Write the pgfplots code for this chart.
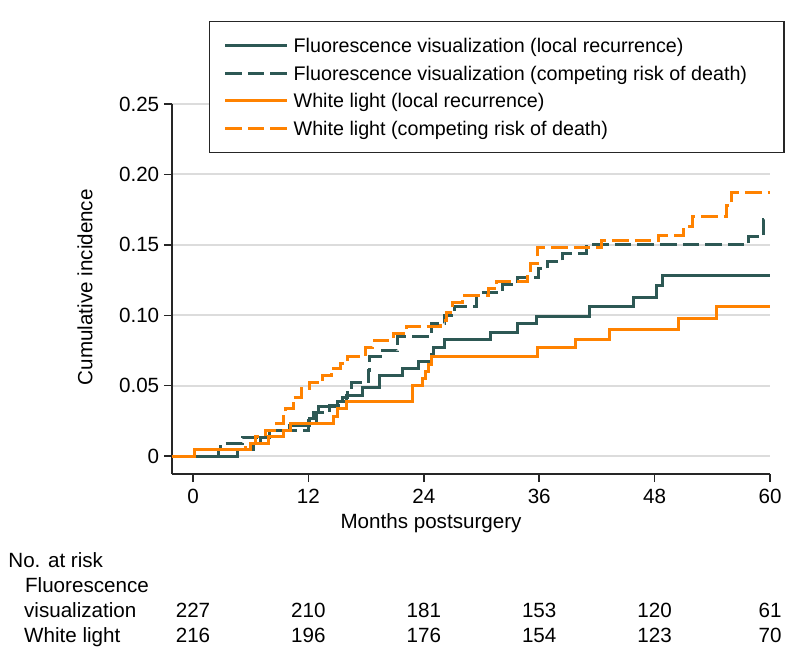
\documentclass[border=0pt]{standalone}
\usepackage{pgfplots}
\pgfplotsset{compat=1.18}
\usepackage{fontspec}
\setmainfont{Liberation Sans}
\definecolor{fvgreen}{RGB}{45,88,84}
\definecolor{wlorange}{RGB}{255,130,0}
\definecolor{gridgray}{RGB}{220,220,220}
\tikzset{
  legtext/.style={inner sep=0pt, text height=10.4pt, text depth=3.45pt},
  tab/.style={inner sep=0pt, text height=7.4pt, text depth=0pt, font=\fontsize{10.3}{12}\selectfont},
}
\begin{document}
\begin{tikzpicture}
\begin{axis}[
  scale only axis, width=299pt, height=185pt,
  xmin=-2.2, xmax=60, ymin=-0.0128, ymax=0.25,
  axis x line*=bottom, axis y line*=left,
  axis line style={black!85, line width=0.75pt},
  tick style={black!85, line width=0.75pt},
  tick align=outside, major tick length=4pt,
  xtick={0,12,24,36,48,60}, xticklabels={0,12,24,36,48,60},
  ytick={0,0.05,0.10,0.15,0.20,0.25},
  yticklabels={0,0.05,0.10,0.15,0.20,0.25},
  yticklabel style={xshift=1.2pt},
  /pgf/number format/assume math mode=true,
  tick label style={font=\fontsize{10.3}{12}\selectfont},
  ymajorgrids, grid style={gridgray, line width=1pt},
  clip=false,
  legend style={at={(axis cs:1.66,0.309)}, anchor=north west,
    draw=black!85, line width=0.7pt, inner xsep=7pt, inner ysep=5pt,
    row sep=0pt, column sep=2.5pt,
    font=\fontsize{9.85}{11}\selectfont},
  legend cell align=left,
  legend image code/.code={\draw[#1] (0pt,0pt) -- (31pt,0pt);},
]
\addplot[const plot, fvgreen, line width=1.5pt] coordinates {
(0,0) (4.6,0.0045) (6.3,0.009) (7.0,0.0135) (8.0,0.018) (10.0,0.022)
(12.1,0.027) (12.5,0.031) (13.0,0.035) (15.0,0.039) (16.0,0.043)
(17.6,0.049) (19.4,0.057) (21.8,0.062) (23.4,0.067) (24.8,0.072)
(25.0,0.077) (26.1,0.083) (30.9,0.088) (33.7,0.094) (35.7,0.099)
(41.2,0.106) (45.8,0.113) (48.2,0.121) (48.8,0.128) (60,0.128)};
\addlegendentry[legtext]{Fluorescence visualization (local recurrence)}
\addplot[const plot, fvgreen, line width=1.5pt, dash pattern=on 8.3pt off 3pt] coordinates {
(0,0) (2.7,0.0045) (2.9,0.009) (5.1,0.0135) (7.5,0.018) (12.0,0.0256)
(12.8,0.031) (14.2,0.036) (15.5,0.042) (16.1,0.047) (16.5,0.052)
(18.2,0.061) (18.4,0.0705) (19.7,0.075) (21.3,0.085) (24.8,0.094)
(26.2,0.100) (27.2,0.106) (29.5,0.116) (32.2,0.122) (33.7,0.127)
(35.9,0.133) (36.9,0.138) (38.4,0.144) (40.9,0.150) (57.8,0.156)
(59.3,0.168) (60,0.168)};
\addlegendentry[legtext]{Fluorescence visualization (competing risk of death)}
\addplot[const plot, wlorange, line width=1.5pt] coordinates {
(-2.2,0) (0.2,0.0045) (6.0,0.009) (7.8,0.014) (9.4,0.0185) (10.1,0.023)
(14.6,0.028) (15.0,0.034) (16.0,0.039) (22.8,0.050) (23.9,0.055)
(24.2,0.060) (24.5,0.065) (24.8,0.071) (35.8,0.0774) (39.8,0.083)
(43.3,0.090) (50.5,0.098) (54.4,0.1065) (60,0.1065)};
\addlegendentry[legtext]{White light (local recurrence)}
\addplot[const plot, wlorange, line width=1.5pt, dash pattern=on 8.3pt off 3pt] coordinates {
(-2.2,0) (0.2,0.0045) (5.5,0.009) (6.5,0.014) (7.5,0.018) (8.7,0.023)
(9.4,0.028) (9.6,0.034) (10.4,0.042) (11.3,0.048) (12.1,0.052)
(13.5,0.0575) (14.4,0.0625) (15.3,0.066) (16.1,0.0705) (17.9,0.0774)
(18.7,0.082) (20.8,0.087) (22.2,0.092) (25.7,0.096) (26.4,0.102)
(27.0,0.109) (28.0,0.114) (30.7,0.119) (31.6,0.124) (34.8,0.130)
(35.1,0.137) (35.8,0.148) (42.5,0.153) (48.4,0.157) (51.0,0.163)
(51.9,0.170) (55.5,0.178) (56.0,0.187) (60,0.187)};
\addlegendentry[legtext]{\makebox[238pt][l]{White light (competing risk of death)}}
% titles
\node[font=\fontsize{10.3}{12}\selectfont] at (axis cs:24.75,-0.0476) {Months postsurgery};
\node[rotate=90, font=\fontsize{10.3}{12}\selectfont] at (axis cs:-11.23,0.12) {Cumulative incidence};
% risk table
\node[tab, anchor=west] at (axis cs:-19.24,-0.0739) {No. at risk};
\node[tab, anchor=west] at (axis cs:-17.5,-0.0916) {Fluorescence};
\node[tab, anchor=west] at (axis cs:-17.6,-0.1094) {visualization};
\node[tab, anchor=west] at (axis cs:-17.6,-0.1271) {White light};
\node[tab] at (axis cs:0,-0.1094) {227};
\node[tab] at (axis cs:12,-0.1094) {210};
\node[tab] at (axis cs:24,-0.1094) {181};
\node[tab] at (axis cs:36,-0.1094) {153};
\node[tab] at (axis cs:48,-0.1094) {120};
\node[tab] at (axis cs:60,-0.1094) {61};
\node[tab] at (axis cs:0,-0.1271) {216};
\node[tab] at (axis cs:12,-0.1271) {196};
\node[tab] at (axis cs:24,-0.1271) {176};
\node[tab] at (axis cs:36,-0.1271) {154};
\node[tab] at (axis cs:48,-0.1271) {123};
\node[tab] at (axis cs:60,-0.1271) {70};
\coordinate (bbsw) at (axis cs:-20.07,-0.147);
\coordinate (bbne) at (axis cs:62.91,0.3239);
\end{axis}
\pgfresetboundingbox
\path[use as bounding box] (bbsw) rectangle (bbne);
\end{tikzpicture}
\end{document}
